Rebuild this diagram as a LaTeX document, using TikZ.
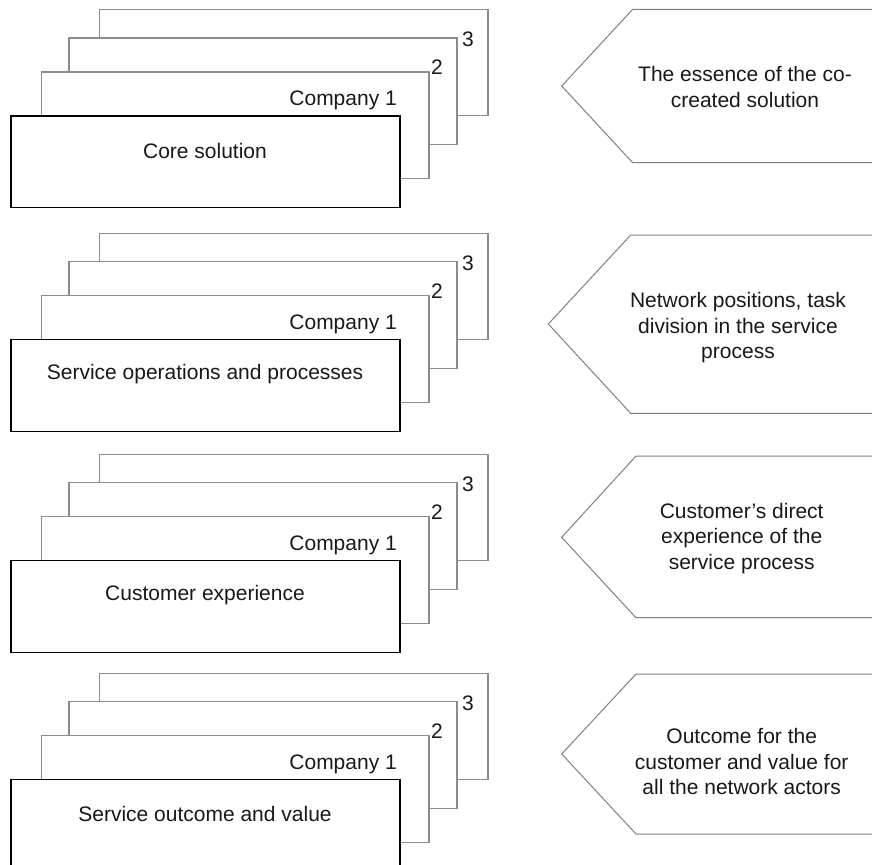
\documentclass[tikz,border=0pt]{standalone}
\usepackage{fontspec}
\setmainfont{Liberation Sans}
\begin{document}
\begin{tikzpicture}[x=1bp,y=-1bp,
  font=\fontsize{21bp}{25.6bp}\selectfont,
  backbox/.style={draw=black!45,line width=1.3bp,fill=white},
  frontbox/.style={draw=black,line width=1.2bp,fill=white},
  arrowshape/.style={draw=black!50,line width=1bp,fill=white},
  lbl/.style={inner sep=0pt,text=black!90},
  desc/.style={inner sep=0pt,align=center,text=black!90}]
\useasboundingbox (0,0) rectangle (872,865);
\clip (0,0) rectangle (872,865);
% four stacks of company layers
\foreach \t/\lab/\i in {9.5/Core solution/1,
                        233.3/Service operations and processes/2,
                        454.3/Customer experience/3,
                        673.3/Service outcome and value/4}{
  \begin{scope}[yshift=-\t bp]
    \draw[backbox] (99.5,0) rectangle (488,106);
    \draw[backbox] (69,28.5) rectangle (457,135);
    \draw[backbox] (41.5,62.5) rectangle (429,169);
    \draw[frontbox] (11,106.5) rectangle (400,198);
    \node[lbl] (three\i) at (468,30) {3};
    \node[lbl] (two\i) at (437,58) {2};
    \node[lbl,anchor=east] (comp\i) at (397,91) {Company 1};
    \node[lbl] (front\i) at (205,141) {\lab};
  \end{scope}
}
% description arrows pointing left
\draw[arrowshape] (880,9.3) -- (632.7,9.3) -- (561.7,86) -- (632.7,162.7) -- (880,162.7);
\draw[arrowshape] (880,235) -- (630.7,235) -- (548.3,324) -- (630.7,413.3) -- (880,413.3);
\draw[arrowshape] (880,456) -- (636,456) -- (561.7,537.3) -- (636,617.7) -- (880,617.7);
\draw[arrowshape] (880,674) -- (636,674) -- (561.7,754) -- (636,834) -- (880,834);
\node[desc] (d1) at (745,87) {The essence of the co-\\created solution};
\node[desc] (d2) at (738,327.7) {Network positions, task\\division in the service\\process};
\node[desc] (d3) at (741.7,538.3) {Customer’s direct\\experience of the\\service process};
\node[desc] (d4) at (741.7,761.7) {Outcome for the\\customer and value for\\all the network actors};
\end{tikzpicture}
\end{document}
